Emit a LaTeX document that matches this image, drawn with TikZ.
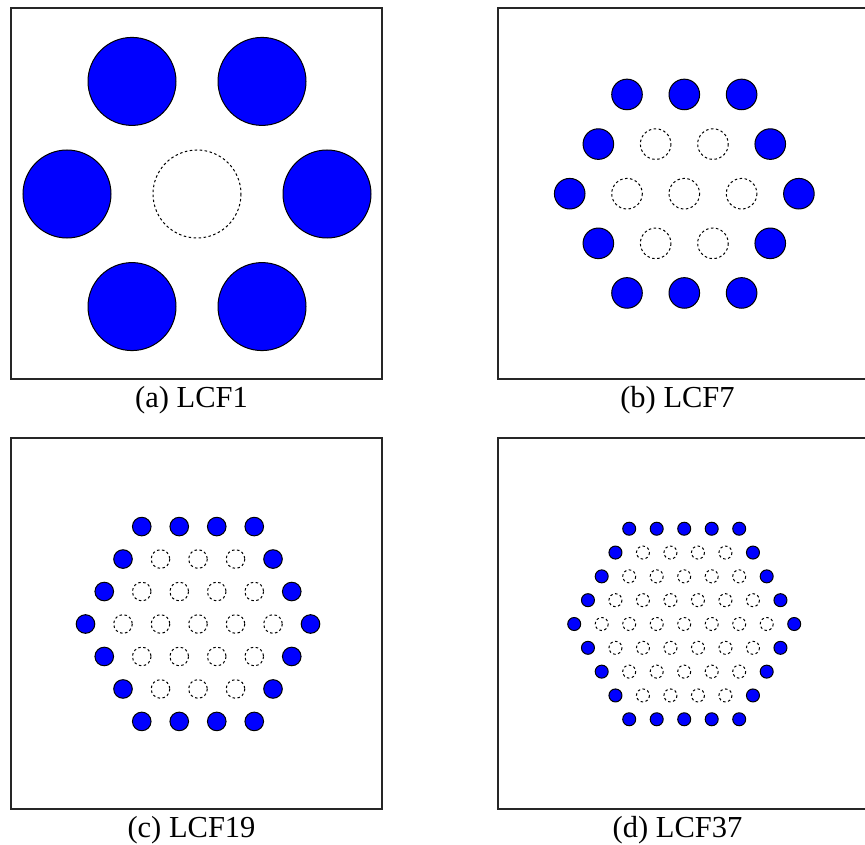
\documentclass[tikz,border=0pt]{standalone}
\usepackage{fontspec}
\setmainfont{Liberation Serif}

\tikzset{
  fuel/.style={draw=black, fill=blue, line width=0.4pt},
  hole/.style={draw=black, dash pattern=on 1pt off 1pt, line width=0.4pt},
  frame/.style={draw=black!85, line width=0.5pt},
  caption/.style={anchor=base, font=\fontsize{12.2}{14}\selectfont}
}

% 육각 격자 패널: 중심 x, 중심 y, 바깥 링 번호, 간격, 반지름
\newcommand{\lcfpanel}[5]{%
  \foreach \i in {-#3,...,#3}{
    \foreach \j in {-#3,...,#3}{
      \pgfmathtruncatemacro{\rk}{max(abs(\i),abs(\j),abs(\i+\j))}
      \pgfmathsetmacro{\px}{#1+#4*(\i+0.5*(\j))}
      \pgfmathsetmacro{\py}{#2+#4*0.8660254*(\j)}
      \ifnum\rk<#3
        \draw[hole] (\px,\py) circle (#5);
      \else\ifnum\rk=#3
        \draw[fuel] (\px,\py) circle (#5);
      \fi\fi
    }
  }
}

\begin{document}
\begin{tikzpicture}[x=0.4pt, y=-0.4pt]
        \useasboundingbox (0,0) rectangle (865,845);

        % 네 개의 테두리
        \draw[frame] (11,8) rectangle (382,379);
        \draw[frame] (498,8) rectangle (869,379);
        \draw[frame] (11,438) rectangle (382,809);
        \draw[frame] (498,438) rectangle (869,809);

        % (a) LCF1
        \lcfpanel{197}{194}{1}{130}{44}
        \node[caption] (capA) at (191.5,407) {(a) LCF1};

        % (b) LCF7
        \lcfpanel{684.3}{193.7}{2}{57.3}{15.3}
        \node[caption] (capB) at (677.5,407) {(b) LCF7};

        % (c) LCF19
        \lcfpanel{198}{624}{3}{37.5}{9.3}
        \node[caption] (capC) at (191.5,837) {(c) LCF19};

        % (d) LCF37
        \lcfpanel{684.2}{624}{4}{27.5}{6.5}
        \node[caption] (capD) at (677.5,837) {(d) LCF37};

\end{tikzpicture}
\end{document}
